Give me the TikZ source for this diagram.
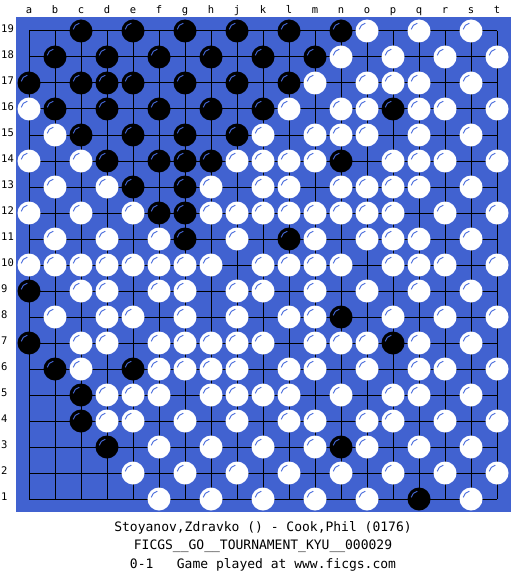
\documentclass[tikz,border=0pt]{standalone}
\usepackage{fontspec}
\setmonofont{DejaVu Sans Mono}
\usepackage{tikz}
\usetikzlibrary{calc}
\usepackage{xcolor}
\definecolor{boardblue}{RGB}{65,98,208}
\definecolor{glintblue}{RGB}{70,105,220}

\begin{document}
\begin{tikzpicture}[x=1pt,y=-1pt,
            board/.style={fill=boardblue},
            grid line/.style={black,line width=1pt},
            black stone/.style={fill=black},
            white stone/.style={fill=white},
            glint/.style={draw=glintblue,line width=0.9pt},
            coord label/.style={font=\ttfamily\fontsize{10.5}{12}\selectfont,inner sep=0pt},
            info/.style={font=\ttfamily\fontsize{13}{15}\selectfont,inner sep=0pt,anchor=base}]

            \useasboundingbox[fill=white] (0,0) rectangle (525,575);

            % board and lines
            \fill[board] (16,17) rectangle (511,512);
            \foreach \i in {0,...,18} {
               \draw[grid line] ({29+26*\i},31) -- ({29+26*\i},499);
               \draw[grid line] (29,{31+26*\i}) -- (497,{31+26*\i});
            }

            % coordinates
            \foreach \l [count=\i from 0] in {a,b,c,d,e,f,g,h,j,k,l,m,n,o,p,q,r,s,t}
               \node[coord label,anchor=base] (col-\l) at ({29+26*\i},14) {\l};
            \foreach \r in {1,...,19}
               \node[coord label,anchor=base west] (row-\r) at (1,{526.5-26*\r}) {\r};

            % black stones (column/row)
            \foreach \c/\r in {3/19,5/19,7/19,9/19,11/19,13/19,
                               2/18,4/18,6/18,8/18,10/18,12/18,
                               1/17,3/17,4/17,5/17,7/17,9/17,11/17,
                               2/16,4/16,6/16,8/16,10/16,15/16,
                               3/15,5/15,7/15,9/15,
                               4/14,6/14,7/14,8/14,13/14,
                               5/13,7/13,6/12,7/12,7/11,11/11,
                               1/9,13/8,1/7,15/7,2/6,5/6,3/5,3/4,4/3,13/3,16/1} {
               \fill[black stone] ({3+26*\c},{525-26*\r}) circle[radius=11.5];
               \draw[glint] ($({3+26*\c},{525-26*\r})+(192:8)$) arc[start angle=192,end angle=258,radius=8];
            }

            % white stones (column/row)
            \foreach \c/\r in {14/19,16/19,18/19,
                               13/18,15/18,17/18,19/18,
                               12/17,14/17,15/17,16/17,18/17,
                               1/16,11/16,13/16,14/16,16/16,17/16,19/16,
                               2/15,10/15,12/15,13/15,14/15,16/15,18/15,
                               1/14,3/14,9/14,10/14,11/14,12/14,15/14,16/14,17/14,19/14,
                               2/13,4/13,8/13,10/13,11/13,13/13,14/13,15/13,16/13,18/13,
                               1/12,3/12,5/12,8/12,9/12,10/12,11/12,12/12,13/12,14/12,15/12,17/12,19/12,
                               2/11,4/11,6/11,9/11,12/11,14/11,15/11,16/11,18/11,
                               1/10,2/10,3/10,4/10,5/10,6/10,7/10,8/10,10/10,11/10,12/10,13/10,15/10,16/10,17/10,19/10,
                               3/9,4/9,6/9,7/9,9/9,10/9,12/9,14/9,16/9,18/9,
                               2/8,4/8,5/8,7/8,9/8,11/8,12/8,15/8,17/8,19/8,
                               3/7,4/7,6/7,7/7,8/7,9/7,10/7,12/7,13/7,14/7,16/7,18/7,
                               3/6,6/6,7/6,8/6,9/6,11/6,12/6,14/6,16/6,17/6,19/6,
                               4/5,5/5,6/5,8/5,9/5,10/5,11/5,13/5,15/5,16/5,18/5,
                               4/4,5/4,7/4,9/4,11/4,12/4,14/4,15/4,17/4,19/4,
                               6/3,8/3,10/3,12/3,14/3,16/3,18/3,
                               5/2,7/2,9/2,11/2,13/2,15/2,17/2,19/2,
                               6/1,8/1,10/1,12/1,14/1,18/1} {
               \fill[white stone] ({3+26*\c},{525-26*\r}) circle[radius=11.5];
               \draw[glint] ($({3+26*\c},{525-26*\r})+(192:8)$) arc[start angle=192,end angle=258,radius=8];
            }

            % game record
            \node[info] (players) at (263,531) {Stoyanov,Zdravko () - Cook,Phil (0176)};
            \node[info] (event) at (263,549) {FICGS\_\_GO\_\_TOURNAMENT\_KYU\_\_000029};
            \node[info] (result) at (263,568) {0-1\ \ \ Game played at www.ficgs.com};
         \end{tikzpicture}
\end{document}
